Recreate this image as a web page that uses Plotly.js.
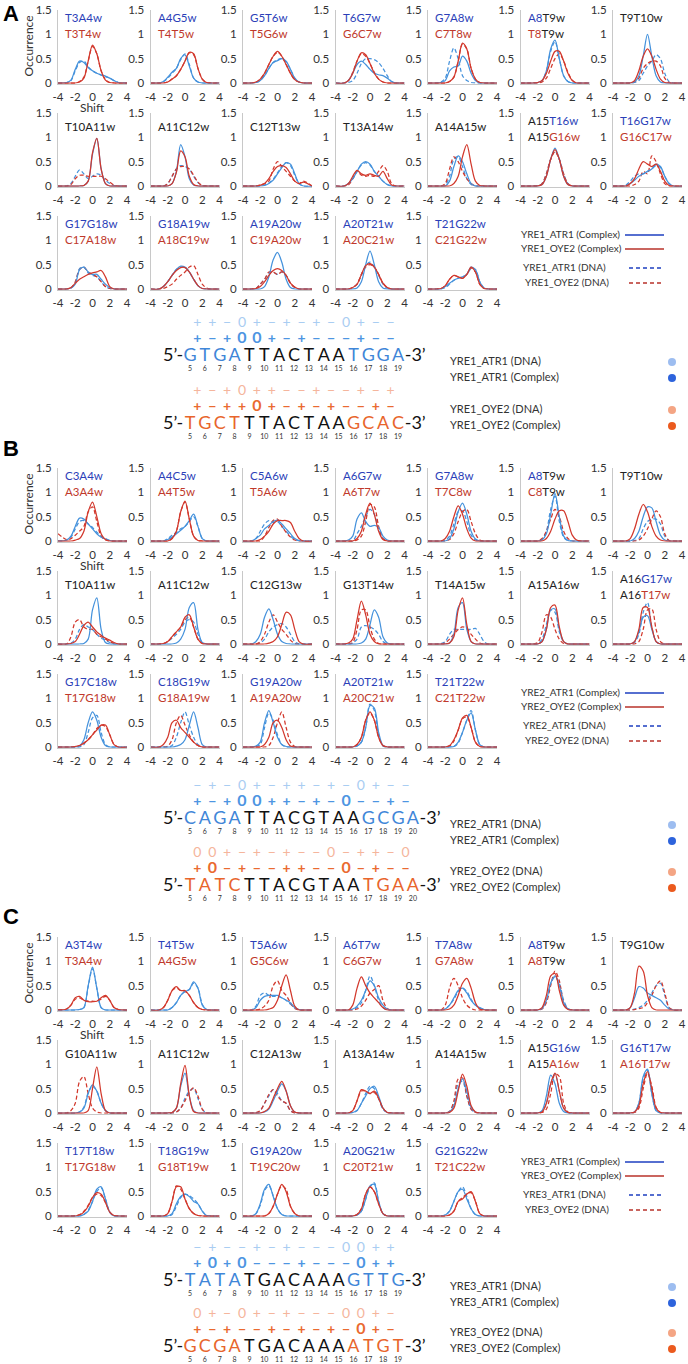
<!DOCTYPE html>
<html><head><meta charset="utf-8">
<script src="https://cdn.plot.ly/plotly-3.0.1.min.js"></script>
<style>body{margin:0;background:#fff}#chart{width:688px;height:1364px}</style>
</head><body><div id="chart"></div>
<script>
// ---------------- DATA ----------------
const X = [-4,-3,-2.5,-2,-1.5,-1,-0.5,0,0.5,1,1.5,2,2.5,3,4];
const X_TICKS = [-4,-2,0,2,4], X_TICK_TEXT = ['-4','-2','0','2','4'];
const Y_TICKS = [0,0.5,1,1.5], Y_TICK_TEXT = ['0','0.5','1','1.5'];

// label codes: b = blue, r = red, k = black ; segments split by |
const A_LABELS = [["b:T3A4w","r:T3T4w"],["b:A4G5w","r:T4T5w"],["b:G5T6w","r:T5G6w"],["b:T6G7w","r:G6C7w"],["b:G7A8w","r:C7T8w"],["b:A8|k:T9w","r:T8|k:T9w"],["k:T9T10w"],
["k:T10A11w"],["k:A11C12w"],["k:C12T13w"],["k:T13A14w"],["k:A14A15w"],["k:A15|b:T16w","k:A15|r:G16w"],["b:T16G17w","r:G16C17w"],
["b:G17G18w","r:C17A18w"],["b:G18A19w","r:A18C19w"],["b:A19A20w","r:C19A20w"],["b:A20T21w","r:A20C21w"],["b:T21G22w","r:C21G22w"]];
const B_LABELS = [["b:C3A4w","r:A3A4w"],["b:A4C5w","r:A4T5w"],["b:C5A6w","r:T5A6w"],["b:A6G7w","r:A6T7w"],["b:G7A8w","r:T7C8w"],["b:A8|k:T9w","r:C8|k:T9w"],["k:T9T10w"],
["k:T10A11w"],["k:A11C12w"],["k:C12G13w"],["k:G13T14w"],["k:T14A15w"],["k:A15A16w"],["k:A16|b:G17w","k:A16|r:T17w"],
["b:G17C18w","r:T17G18w"],["b:C18G19w","r:G18A19w"],["b:G19A20w","r:A19A20w"],["b:A20T21w","r:A20C21w"],["b:T21T22w","r:C21T22w"]];
const C_LABELS = [["b:A3T4w","r:T3A4w"],["b:T4T5w","r:A4G5w"],["b:T5A6w","r:G5C6w"],["b:A6T7w","r:C6G7w"],["b:T7A8w","r:G7A8w"],["b:A8|k:T9w","r:A8|k:T9w"],["k:T9G10w"],
["k:G10A11w"],["k:A11C12w"],["k:C12A13w"],["k:A13A14w"],["k:A14A15w"],["k:A15|b:G16w","k:A15|r:A16w"],["b:G16T17w","r:A16T17w"],
["b:T17T18w","r:T17G18w"],["b:T18G19w","r:G18T19w"],["b:G19A20w","r:T19C20w"],["b:A20G21w","r:C20T21w"],["b:G21G22w","r:T21C22w"]];

// Panel A curves
const A_CX_ATR1 = [
[0,0.01,0.06,0.28,0.45,0.42,0.32,0.25,0.2,0.17,0.14,0.1,0.05,0.01,0],
[0,0,0.03,0.12,0.22,0.3,0.5,0.58,0.35,0.1,0.02,0,0,0,0],
[0,0,0.01,0.05,0.15,0.3,0.42,0.46,0.5,0.45,0.28,0.1,0.02,0,0],
[0,0,0.05,0.2,0.38,0.45,0.38,0.28,0.2,0.17,0.15,0.1,0.03,0,0],
[0,0,0.01,0.05,0.25,0.33,0.35,0.55,0.45,0.2,0.05,0,0,0,0],
[0,0,0,0.01,0.05,0.25,0.7,0.88,0.5,0.15,0.03,0,0,0,0],
[0,0,0,0,0.02,0.15,0.55,1.0,0.55,0.15,0.02,0,0,0,0],
[0,0,0,0,0,0.01,0.1,0.65,0.98,0.35,0.05,0,0,0,0],
[0,0,0,0,0.05,0.3,0.85,0.6,0.15,0.02,0,0,0,0,0],
[0,0,0,0,0.01,0.05,0.12,0.25,0.38,0.48,0.45,0.25,0.05,0,0],
[0,0,0.05,0.15,0.3,0.45,0.5,0.45,0.3,0.2,0.1,0.03,0,0,0],
[0,0,0,0,0.1,0.4,0.62,0.5,0.25,0.05,0,0,0,0,0],
[0,0,0,0,0.03,0.2,0.55,0.78,0.55,0.2,0.03,0,0,0,0],
[0,0,0,0.05,0.12,0.2,0.25,0.3,0.35,0.45,0.4,0.2,0.05,0,0],
[0,0,0.02,0.1,0.4,0.45,0.35,0.3,0.3,0.2,0.1,0.03,0,0,0],
[0,0,0.05,0.15,0.28,0.4,0.47,0.45,0.35,0.2,0.07,0.01,0,0,0],
[0,0,0,0,0.05,0.25,0.6,0.75,0.55,0.2,0.03,0,0,0,0],
[0,0,0,0,0.02,0.15,0.5,0.78,0.5,0.15,0.02,0,0,0,0],
[0,0,0,0.05,0.12,0.18,0.22,0.25,0.3,0.45,0.4,0.15,0.02,0,0]];
const A_CX_OYE2 = [
[0,0,0,0,0.02,0.1,0.45,0.78,0.6,0.25,0.06,0.01,0,0,0],
[0,0,0,0.02,0.08,0.15,0.28,0.45,0.63,0.6,0.3,0.08,0.01,0,0],
[0,0,0.02,0.08,0.2,0.38,0.55,0.65,0.55,0.38,0.2,0.07,0.02,0,0],
[0,0,0.05,0.2,0.45,0.62,0.58,0.4,0.2,0.08,0.02,0,0,0,0],
[0,0,0,0,0.03,0.12,0.45,0.82,0.7,0.3,0.08,0.01,0,0,0],
[0,0,0,0.01,0.05,0.2,0.45,0.65,0.65,0.45,0.2,0.05,0,0,0],
[0,0,0,0,0.05,0.25,0.55,0.7,0.55,0.28,0.08,0.01,0,0,0],
[0,0,0,0,0,0.01,0.1,0.68,0.98,0.35,0.05,0,0,0,0],
[0,0,0,0,0.05,0.28,0.72,0.6,0.2,0.03,0,0,0,0,0],
[0,0,0,0.02,0.05,0.15,0.3,0.4,0.42,0.38,0.25,0.1,0.05,0.08,0],
[0,0,0.05,0.2,0.32,0.25,0.22,0.25,0.22,0.2,0.3,0.15,0.02,0,0],
[0,0,0,0,0,0.05,0.2,0.6,0.85,0.45,0.1,0.01,0,0,0],
[0,0,0,0,0.03,0.2,0.55,0.75,0.55,0.2,0.03,0,0,0,0],
[0,0,0,0.05,0.15,0.35,0.5,0.45,0.4,0.45,0.3,0.1,0.01,0,0],
[0,0,0.03,0.12,0.2,0.25,0.3,0.33,0.35,0.38,0.25,0.05,0,0,0],
[0,0,0.05,0.15,0.28,0.38,0.44,0.44,0.35,0.2,0.07,0.01,0,0,0],
[0,0,0.01,0.05,0.15,0.28,0.38,0.42,0.38,0.28,0.12,0.04,0,0,0],
[0,0,0,0.03,0.1,0.3,0.48,0.52,0.45,0.3,0.12,0.03,0,0,0],
[0,0,0.01,0.07,0.2,0.28,0.25,0.22,0.3,0.45,0.35,0.1,0.01,0,0]];
const A_DNA_ATR1 = [
[0,0.01,0.05,0.25,0.42,0.45,0.33,0.25,0.2,0.16,0.13,0.1,0.05,0.01,0],
[0,0,0.03,0.1,0.2,0.3,0.48,0.6,0.38,0.1,0.02,0,0,0,0],
[0,0,0.01,0.05,0.15,0.3,0.42,0.48,0.5,0.43,0.28,0.1,0.02,0,0],
[0,0,0.01,0.05,0.2,0.4,0.5,0.5,0.48,0.42,0.3,0.15,0.03,0,0],
[0,0,0.02,0.1,0.45,0.72,0.5,0.15,0.05,0.01,0,0,0,0,0],
[0,0,0,0.01,0.05,0.25,0.65,0.85,0.5,0.15,0.03,0,0,0,0],
[0,0,0,0,0.01,0.05,0.2,0.35,0.45,0.58,0.5,0.2,0.03,0,0],
[0,0,0.05,0.2,0.33,0.25,0.15,0.2,0.25,0.22,0.12,0.05,0.01,0,0],
[0,0,0,0.05,0.2,0.35,0.42,0.4,0.35,0.2,0.07,0.01,0,0,0],
[0,0,0,0,0.02,0.06,0.14,0.27,0.4,0.48,0.42,0.22,0.05,0,0],
[0,0,0.05,0.15,0.3,0.43,0.48,0.43,0.3,0.2,0.1,0.03,0,0,0],
[0,0,0,0.02,0.2,0.55,0.6,0.4,0.15,0.03,0,0,0,0,0],
[0,0,0,0.01,0.05,0.25,0.55,0.72,0.55,0.25,0.05,0,0,0,0],
[0,0,0.02,0.1,0.2,0.25,0.25,0.3,0.35,0.42,0.38,0.2,0.05,0,0],
[0,0,0.02,0.12,0.42,0.45,0.33,0.28,0.25,0.15,0.05,0.01,0,0,0],
[0,0,0.05,0.15,0.28,0.4,0.45,0.45,0.35,0.2,0.07,0.01,0,0,0],
[0,0,0.01,0.1,0.2,0.33,0.35,0.3,0.35,0.28,0.12,0.03,0,0,0],
[0,0,0,0.03,0.1,0.28,0.48,0.55,0.45,0.28,0.1,0.02,0,0,0],
[0,0,0,0.03,0.1,0.18,0.22,0.25,0.3,0.42,0.4,0.15,0.02,0,0]];
const A_DNA_OYE2 = [
[0,0,0,0,0.03,0.12,0.45,0.75,0.6,0.25,0.07,0.01,0,0,0],
[0,0,0,0.02,0.08,0.15,0.28,0.45,0.62,0.58,0.3,0.08,0.01,0,0],
[0,0,0.02,0.08,0.2,0.38,0.55,0.63,0.55,0.38,0.2,0.07,0.02,0,0],
[0,0,0.05,0.22,0.45,0.6,0.55,0.4,0.22,0.08,0.02,0,0,0,0],
[0,0,0,0,0.03,0.12,0.45,0.8,0.7,0.3,0.08,0.01,0,0,0],
[0,0,0,0,0.02,0.1,0.3,0.5,0.6,0.45,0.22,0.06,0,0,0],
[0,0,0,0,0.02,0.1,0.3,0.4,0.45,0.45,0.35,0.1,0.01,0,0],
[0,0,0.03,0.15,0.22,0.22,0.2,0.2,0.2,0.2,0.15,0.08,0.02,0,0],
[0,0,0,0.05,0.2,0.35,0.4,0.4,0.35,0.22,0.08,0.01,0,0,0],
[0,0,0,0.02,0.05,0.1,0.35,0.5,0.4,0.3,0.2,0.1,0.05,0.1,0],
[0,0,0.02,0.15,0.3,0.22,0.2,0.22,0.2,0.3,0.42,0.3,0.05,0,0],
[0,0,0,0.05,0.35,0.6,0.5,0.3,0.15,0.05,0,0,0,0,0],
[0,0,0,0.01,0.05,0.25,0.55,0.7,0.55,0.25,0.05,0,0,0,0],
[0,0,0,0,0.03,0.1,0.3,0.25,0.62,0.5,0.25,0.05,0,0,0],
[0,0,0.02,0.15,0.4,0.45,0.35,0.3,0.25,0.15,0.05,0.01,0,0,0],
[0,0,0.01,0.05,0.1,0.2,0.28,0.35,0.45,0.48,0.3,0.1,0.02,0,0],
[0,0,0.01,0.1,0.2,0.35,0.35,0.3,0.35,0.28,0.12,0.03,0,0,0],
[0,0,0,0.03,0.1,0.3,0.45,0.5,0.45,0.3,0.12,0.03,0,0,0],
[0,0,0.01,0.07,0.2,0.28,0.25,0.22,0.3,0.43,0.35,0.1,0.01,0,0]];

// Panel B curves
const B_CX_ATR1 = [
[0,0.02,0.1,0.3,0.47,0.45,0.35,0.25,0.15,0.08,0.04,0.01,0,0,0],
[0,0,0,0.03,0.08,0.15,0.22,0.3,0.42,0.55,0.3,0.05,0,0,0],
[0,0,0.05,0.12,0.25,0.32,0.4,0.43,0.35,0.25,0.15,0.05,0.01,0,0],
[0,0,0.02,0.1,0.45,0.58,0.4,0.3,0.32,0.28,0.1,0.02,0,0,0],
[0,0,0,0,0.05,0.25,0.6,0.78,0.55,0.2,0.04,0,0,0,0],
[0,0,0,0,0.02,0.15,0.55,0.98,0.5,0.1,0.01,0,0,0,0],
[0,0,0,0,0.05,0.2,0.5,0.7,0.68,0.4,0.12,0.02,0,0,0],
[0,0,0,0,0,0.01,0.1,0.7,0.95,0.3,0.03,0,0,0,0],
[0,0,0,0,0,0.02,0.1,0.3,0.75,0.85,0.3,0.03,0,0,0],
[0,0,0.05,0.2,0.55,0.72,0.5,0.2,0.05,0.01,0,0,0,0,0],
[0,0,0,0,0,0.02,0.1,0.4,0.7,0.55,0.15,0.02,0,0,0],
[0,0,0,0,0.02,0.2,0.75,0.85,0.3,0.05,0,0,0,0,0],
[0,0,0,0,0.05,0.3,0.7,0.72,0.3,0.05,0,0,0,0,0],
[0,0,0,0,0.05,0.25,0.55,0.58,0.3,0.05,0,0,0,0,0],
[0,0,0,0,0.02,0.15,0.5,0.72,0.55,0.2,0.03,0,0,0,0],
[0,0,0,0,0,0.02,0.05,0.15,0.45,0.72,0.4,0.05,0,0,0],
[0,0,0.02,0.1,0.5,0.75,0.5,0.2,0.05,0.01,0,0,0,0,0],
[0,0,0,0,0.02,0.1,0.4,0.85,0.8,0.3,0.03,0,0,0,0],
[0,0,0,0,0,0.01,0.1,0.3,0.55,0.7,0.35,0.05,0,0,0]];
const B_CX_OYE2 = [
[0,0,0,0.02,0.05,0.2,0.6,0.8,0.5,0.15,0.03,0,0,0,0],
[0,0,0,0,0.05,0.2,0.6,0.82,0.45,0.1,0.01,0,0,0,0],
[0,0,0,0.03,0.1,0.2,0.35,0.42,0.42,0.42,0.38,0.2,0.05,0,0],
[0,0,0,0,0.05,0.2,0.55,0.78,0.55,0.2,0.03,0,0,0,0],
[0,0,0,0.05,0.2,0.5,0.72,0.55,0.25,0.06,0,0,0,0,0],
[0,0,0,0,0,0.05,0.2,0.45,0.62,0.62,0.4,0.12,0.02,0,0],
[0,0,0,0.05,0.25,0.55,0.75,0.6,0.3,0.1,0.02,0,0,0,0],
[0,0,0.01,0.05,0.2,0.38,0.45,0.35,0.25,0.18,0.12,0.08,0.03,0,0],
[0,0,0.01,0.05,0.15,0.25,0.35,0.55,0.6,0.35,0.1,0.01,0,0,0],
[0,0,0,0,0,0.02,0.05,0.15,0.4,0.65,0.6,0.3,0.05,0,0],
[0,0,0.02,0.1,0.5,0.88,0.6,0.2,0.05,0,0,0,0,0,0],
[0,0,0,0,0.02,0.15,0.7,0.95,0.4,0.05,0,0,0,0,0],
[0,0,0,0,0.05,0.3,0.75,0.8,0.35,0.05,0,0,0,0,0],
[0,0,0,0,0.05,0.3,0.75,0.75,0.35,0.05,0,0,0,0,0],
[0,0,0,0.01,0.03,0.08,0.15,0.25,0.35,0.45,0.45,0.25,0.05,0,0],
[0,0,0.05,0.2,0.5,0.55,0.4,0.3,0.2,0.1,0.03,0,0,0,0],
[0,0,0,0,0.05,0.2,0.5,0.55,0.4,0.15,0.02,0,0,0,0],
[0,0,0,0,0.05,0.2,0.55,0.72,0.55,0.2,0.03,0,0,0,0],
[0,0,0,0,0.03,0.15,0.35,0.6,0.65,0.4,0.1,0.01,0,0,0]];
const B_DNA_ATR1 = [
[0,0.02,0.08,0.25,0.4,0.42,0.35,0.28,0.18,0.1,0.05,0.01,0,0,0],
[0,0,0,0.05,0.12,0.18,0.25,0.3,0.4,0.5,0.3,0.05,0,0,0],
[0,0,0.05,0.2,0.35,0.42,0.38,0.4,0.3,0.2,0.1,0.03,0,0,0],
[0,0,0,0,0.15,0.3,0.5,0.65,0.55,0.25,0.05,0,0,0,0],
[0,0,0,0.02,0.1,0.35,0.6,0.62,0.4,0.12,0.02,0,0,0,0],
[0,0,0,0,0.03,0.2,0.65,0.92,0.4,0.08,0.01,0,0,0,0],
[0,0,0,0,0.01,0.05,0.25,0.4,0.45,0.45,0.35,0.1,0.01,0,0],
[0,0,0.02,0.1,0.3,0.4,0.35,0.3,0.2,0.12,0.08,0.03,0,0,0],
[0,0,0,0.05,0.12,0.2,0.3,0.45,0.5,0.45,0.2,0.03,0,0,0],
[0,0,0,0.02,0.1,0.25,0.35,0.4,0.42,0.35,0.2,0.05,0,0,0],
[0,0,0,0.02,0.1,0.35,0.38,0.35,0.3,0.2,0.05,0,0,0,0],
[0,0,0.01,0.05,0.2,0.3,0.3,0.3,0.3,0.3,0.32,0.2,0.05,0,0],
[0,0,0,0,0.1,0.4,0.7,0.65,0.25,0.05,0,0,0,0,0],
[0,0,0,0,0.03,0.2,0.65,0.85,0.35,0.05,0,0,0,0,0],
[0,0,0,0,0,0.05,0.3,0.6,0.65,0.3,0.05,0,0,0,0],
[0,0,0,0,0.03,0.2,0.5,0.72,0.45,0.2,0.05,0,0,0,0],
[0,0,0.01,0.05,0.4,0.7,0.55,0.25,0.05,0,0,0,0,0,0],
[0,0,0,0,0.02,0.1,0.4,0.88,0.75,0.25,0.02,0,0,0,0],
[0,0,0,0,0,0.01,0.08,0.3,0.55,0.75,0.35,0.05,0,0,0]];
const B_DNA_OYE2 = [
[0.15,0.03,0.05,0.12,0.2,0.3,0.6,0.7,0.4,0.1,0.02,0,0,0,0],
[0,0,0,0,0.05,0.2,0.6,0.8,0.45,0.1,0.01,0,0,0,0],
[0,0,0,0,0.1,0.28,0.42,0.45,0.3,0.18,0.08,0.02,0,0,0],
[0,0,0,0,0.02,0.1,0.4,0.75,0.7,0.3,0.05,0,0,0,0],
[0,0,0,0,0.03,0.15,0.4,0.6,0.65,0.4,0.15,0.02,0,0,0],
[0,0,0,0,0.05,0.2,0.45,0.65,0.5,0.2,0.05,0,0,0,0],
[0,0,0,0,0,0.02,0.1,0.25,0.45,0.62,0.5,0.15,0.01,0,0],
[0,0,0.15,0.45,0.5,0.35,0.3,0.3,0.2,0.15,0.1,0.05,0.01,0,0],
[0,0,0.01,0.05,0.15,0.25,0.35,0.5,0.55,0.35,0.1,0.01,0,0,0],
[0,0,0,0.05,0.2,0.45,0.6,0.45,0.3,0.2,0.08,0.01,0,0,0],
[0,0,0,0.03,0.3,0.7,0.7,0.35,0.1,0.01,0,0,0,0,0],
[0,0,0,0.02,0.1,0.2,0.3,0.35,0.32,0.2,0.1,0.02,0,0,0],
[0,0,0,0.03,0.25,0.6,0.55,0.3,0.1,0.01,0,0,0,0,0],
[0,0,0,0,0,0.05,0.3,0.7,0.72,0.3,0.05,0,0,0,0],
[0,0,0,0.01,0.03,0.08,0.15,0.25,0.38,0.45,0.42,0.25,0.05,0,0],
[0,0,0,0.02,0.15,0.5,0.65,0.45,0.25,0.1,0.03,0,0,0,0],
[0,0,0,0,0,0.03,0.2,0.5,0.72,0.4,0.1,0.01,0,0,0],
[0,0,0,0,0.05,0.2,0.55,0.7,0.55,0.2,0.03,0,0,0,0],
[0,0,0,0,0.02,0.12,0.35,0.58,0.62,0.4,0.1,0.01,0,0,0]];

// Panel C curves
const C_CX_ATR1 = [
[0,0,0,0,0.01,0.05,0.5,0.88,0.45,0.05,0,0,0,0,0],
[0,0,0,0,0.05,0.15,0.3,0.38,0.42,0.58,0.45,0.1,0.01,0,0],
[0,0,0.05,0.2,0.28,0.3,0.3,0.3,0.25,0.2,0.15,0.05,0.01,0,0],
[0,0,0,0.02,0.08,0.2,0.4,0.6,0.5,0.25,0.1,0.02,0,0,0],
[0,0,0,0.02,0.1,0.25,0.4,0.45,0.35,0.2,0.1,0.05,0.01,0,0],
[0,0,0,0,0.03,0.2,0.55,0.7,0.5,0.15,0.02,0,0,0,0],
[0,0,0,0.05,0.25,0.48,0.45,0.35,0.3,0.25,0.2,0.1,0.02,0,0],
[0,0,0,0,0.02,0.1,0.4,0.58,0.45,0.2,0.05,0,0,0,0],
[0,0,0,0,0.01,0.1,0.55,0.82,0.35,0.05,0,0,0,0,0],
[0,0,0,0,0.02,0.08,0.25,0.45,0.6,0.45,0.15,0.02,0,0,0],
[0,0,0,0.01,0.05,0.2,0.35,0.5,0.55,0.35,0.1,0.01,0,0,0],
[0,0,0,0,0.02,0.15,0.5,0.7,0.45,0.12,0.02,0,0,0,0],
[0,0,0,0,0.05,0.35,0.78,0.6,0.2,0.03,0,0,0,0,0],
[0,0,0,0,0.02,0.2,0.75,0.9,0.4,0.05,0,0,0,0,0],
[0,0,0,0,0,0.03,0.1,0.3,0.55,0.6,0.35,0.08,0,0,0],
[0,0,0,0,0.05,0.25,0.4,0.45,0.4,0.3,0.25,0.1,0.01,0,0],
[0,0,0.05,0.25,0.55,0.65,0.4,0.15,0.03,0,0,0,0,0,0],
[0,0,0,0,0.02,0.1,0.35,0.62,0.65,0.3,0.05,0,0,0,0],
[0,0,0,0.02,0.1,0.3,0.5,0.55,0.35,0.15,0.03,0,0,0,0]];
const C_CX_OYE2 = [
[0,0.02,0.1,0.25,0.28,0.2,0.17,0.17,0.18,0.25,0.3,0.2,0.05,0.01,0],
[0,0,0.05,0.2,0.4,0.48,0.4,0.4,0.3,0.15,0.05,0.01,0,0,0],
[0,0,0,0,0,0.02,0.05,0.2,0.5,0.72,0.4,0.08,0,0,0],
[0,0,0,0.1,0.45,0.68,0.5,0.35,0.25,0.15,0.05,0,0,0,0],
[0,0,0,0,0.02,0.1,0.3,0.55,0.65,0.45,0.15,0.02,0,0,0],
[0,0,0,0,0.05,0.3,0.7,0.75,0.4,0.1,0.01,0,0,0,0],
[0,0,0,0.05,0.35,0.9,0.8,0.3,0.05,0,0,0,0,0,0],
[0,0,0,0,0,0,0.05,0.5,0.95,0.4,0.05,0,0,0,0],
[0,0,0,0,0.01,0.1,0.6,0.98,0.35,0.03,0,0,0,0,0],
[0,0,0,0,0.03,0.1,0.3,0.5,0.65,0.45,0.15,0.02,0,0,0],
[0,0,0,0.05,0.25,0.48,0.45,0.4,0.45,0.3,0.1,0.01,0,0,0],
[0,0,0,0,0.01,0.1,0.45,0.8,0.55,0.15,0.02,0,0,0,0],
[0,0,0,0,0.02,0.2,0.6,0.82,0.45,0.1,0.01,0,0,0,0],
[0,0,0,0,0.02,0.15,0.6,0.85,0.5,0.1,0.01,0,0,0,0],
[0,0,0,0,0.02,0.08,0.2,0.38,0.48,0.45,0.28,0.08,0.01,0,0],
[0,0,0,0.05,0.3,0.6,0.6,0.35,0.15,0.05,0.01,0,0,0,0],
[0,0,0,0,0,0.05,0.2,0.45,0.65,0.5,0.2,0.05,0,0,0],
[0,0,0,0,0.03,0.15,0.45,0.6,0.5,0.25,0.05,0,0,0,0],
[0,0,0,0,0.02,0.1,0.3,0.35,0.45,0.5,0.3,0.05,0,0,0]];
const C_DNA_ATR1 = [
[0,0,0,0,0.01,0.05,0.48,0.85,0.45,0.05,0,0,0,0,0],
[0,0,0,0,0.05,0.15,0.3,0.38,0.42,0.55,0.45,0.12,0.01,0,0],
[0,0,0.08,0.3,0.35,0.3,0.28,0.28,0.25,0.2,0.12,0.04,0,0,0],
[0,0,0,0.01,0.05,0.15,0.4,0.7,0.5,0.2,0.05,0,0,0,0],
[0,0,0,0.02,0.1,0.22,0.38,0.45,0.38,0.22,0.1,0.04,0.01,0,0],
[0,0,0,0,0.03,0.2,0.55,0.68,0.55,0.2,0.03,0,0,0,0],
[0,0,0,0,0.02,0.05,0.1,0.2,0.35,0.5,0.55,0.3,0.05,0,0],
[0,0,0,0,0.02,0.12,0.42,0.55,0.45,0.2,0.05,0,0,0,0],
[0,0,0,0,0,0.02,0.1,0.3,0.45,0.5,0.3,0.08,0,0,0],
[0,0,0,0.05,0.2,0.35,0.48,0.4,0.25,0.2,0.05,0,0,0,0],
[0,0,0,0.01,0.05,0.2,0.4,0.55,0.5,0.3,0.08,0.01,0,0,0],
[0,0,0,0,0.03,0.2,0.6,0.65,0.35,0.08,0.01,0,0,0,0],
[0,0,0,0,0.03,0.2,0.6,0.8,0.45,0.1,0.01,0,0,0,0],
[0,0,0,0,0.02,0.2,0.7,0.88,0.4,0.05,0,0,0,0,0],
[0,0,0,0,0,0.03,0.12,0.3,0.5,0.58,0.35,0.08,0,0,0],
[0,0,0,0,0.03,0.2,0.38,0.45,0.42,0.35,0.25,0.1,0.01,0,0],
[0,0,0.05,0.22,0.52,0.62,0.42,0.15,0.03,0,0,0,0,0,0],
[0,0,0,0,0.02,0.1,0.35,0.6,0.68,0.3,0.05,0,0,0,0],
[0,0,0,0.02,0.1,0.3,0.5,0.6,0.4,0.15,0.03,0,0,0,0]];
const C_DNA_OYE2 = [
[0,0.02,0.1,0.22,0.25,0.2,0.18,0.18,0.18,0.22,0.28,0.2,0.05,0.01,0],
[0,0,0.05,0.2,0.4,0.45,0.4,0.38,0.3,0.15,0.05,0.01,0,0,0],
[0,0,0,0.02,0.08,0.2,0.5,0.6,0.4,0.3,0.15,0.03,0,0,0],
[0,0,0,0,0.02,0.08,0.2,0.35,0.42,0.5,0.2,0.03,0,0,0],
[0,0,0,0.1,0.45,0.65,0.5,0.25,0.1,0.03,0,0,0,0,0],
[0,0,0,0,0.02,0.15,0.5,0.8,0.6,0.15,0.02,0,0,0,0],
[0,0,0,0,0.01,0.03,0.05,0.15,0.3,0.5,0.6,0.35,0.05,0,0],
[0,0,0.05,0.2,0.65,0.75,0.4,0.1,0.02,0,0,0,0,0,0],
[0,0,0,0,0,0.02,0.1,0.25,0.42,0.52,0.35,0.08,0,0,0],
[0,0,0.01,0.05,0.2,0.38,0.48,0.35,0.25,0.2,0.05,0,0,0,0],
[0,0,0,0.05,0.25,0.45,0.45,0.4,0.42,0.3,0.1,0.01,0,0,0],
[0,0,0,0,0.03,0.25,0.7,0.72,0.35,0.08,0.01,0,0,0,0],
[0,0,0,0,0.01,0.08,0.4,0.8,0.75,0.2,0.02,0,0,0,0],
[0,0,0,0,0.01,0.1,0.5,0.82,0.55,0.12,0.01,0,0,0,0],
[0,0,0,0.01,0.03,0.1,0.22,0.38,0.45,0.42,0.28,0.08,0.01,0,0],
[0,0,0,0.05,0.3,0.62,0.55,0.35,0.15,0.05,0.01,0,0,0,0],
[0,0,0,0,0,0.05,0.2,0.45,0.62,0.55,0.2,0.05,0,0,0],
[0,0,0,0,0.03,0.15,0.45,0.6,0.5,0.25,0.05,0,0,0,0],
[0,0,0,0,0.02,0.1,0.3,0.38,0.45,0.48,0.3,0.05,0,0,0]];

// Sequences (first index 5) and step signs (between bases)
const A_SEQ_ATR1 = "GTGATTACTAATGGA", A_SEQ_OYE2 = "TGCTTTACTAAGCAC";
const B_SEQ_ATR1 = "CAGATTACGTAAGCGA", B_SEQ_OYE2 = "TATCTTACGTAATGAA";
const C_SEQ_ATR1 = "TATATGACAAAGTTG", C_SEQ_OYE2 = "GCGATGACAAAATGT";
const A_SIGN_ATR1_DNA = "++-0+-+-+-0+--", A_SIGN_ATR1_CX = "+-+00+-+---+--";
const A_SIGN_OYE2_DNA = "+-+0++--+--+-+", A_SIGN_OYE2_CX = "+-++0+-+-+--+-";
const B_SIGN_ATR1_DNA = "-+-0+-++-+-0+--", B_SIGN_ATR1_CX = "+-+00++-+-0--+-";
const B_SIGN_OYE2_DNA = "00+-+-+--0-++-0", B_SIGN_OYE2_CX = "+0-+--++--0-+--";
const C_SIGN_ATR1_DNA = "-+--+-+---00++", C_SIGN_ATR1_CX = "+0+0---+---0++";
const C_SIGN_OYE2_DNA = "0+-0+-+---00+-", C_SIGN_OYE2_CX = "+-+--+-+-+-0+-";
const FIRST_INDEX = 5;
const YRE_NAMES = ["YRE1","YRE2","YRE3"];
const PANEL_LETTERS = ["A","B","C"];

// ---------------- LAYOUT CONSTANTS ----------------
const W = 688, H = 1364;
const PANEL_TOP = [10, 468, 937];
const COL_LEFT0 = 58, COL_STEP = 92.5, PW = 69, PH = 73, ROW_STEP = 103;
const YMIN = -0.015;
const SEQ_Y = [[355,423],[818,885],[1280,1346]];
const LETTER_Y = [13, 448, 916];
const SEQ_PX0 = 115.7, SEQ_STEP = 14.86;
const FONT = 'Lato, "Open Sans", sans-serif';
const C_ATR = '#4592dc', C_OYE = '#d2382c';
const LBL = {b:'#2b3fb8', r:'#c0392b', k:'#222'};
const LEG_ATR = '#1e3fc0', LEG_OYE = '#b8322a';
const SEQ_COL = {atr:'#3f86d8', oye:'#e8652c'};
const SIGN_COL = {atrDna:'#a9cdf2', atrCx:'#4d95e2', oyeDna:'#f5b59c', oyeCx:'#ea6a30'};
const DOT_COL = ['#9dbdf0','#2d63dc','#f4a584','#eb5a1e'];

const PANELS = [
 {labels:A_LABELS, cxA:A_CX_ATR1, cxO:A_CX_OYE2, dnA:A_DNA_ATR1, dnO:A_DNA_OYE2, seqA:A_SEQ_ATR1, seqO:A_SEQ_OYE2,
  sAd:A_SIGN_ATR1_DNA, sAc:A_SIGN_ATR1_CX, sOd:A_SIGN_OYE2_DNA, sOc:A_SIGN_OYE2_CX},
 {labels:B_LABELS, cxA:B_CX_ATR1, cxO:B_CX_OYE2, dnA:B_DNA_ATR1, dnO:B_DNA_OYE2, seqA:B_SEQ_ATR1, seqO:B_SEQ_OYE2,
  sAd:B_SIGN_ATR1_DNA, sAc:B_SIGN_ATR1_CX, sOd:B_SIGN_OYE2_DNA, sOc:B_SIGN_OYE2_CX},
 {labels:C_LABELS, cxA:C_CX_ATR1, cxO:C_CX_OYE2, dnA:C_DNA_ATR1, dnO:C_DNA_OYE2, seqA:C_SEQ_ATR1, seqO:C_SEQ_OYE2,
  sAd:C_SIGN_ATR1_DNA, sAc:C_SIGN_ATR1_CX, sOd:C_SIGN_OYE2_DNA, sOc:C_SIGN_OYE2_CX}
];

// ---------------- BUILD ----------------
const traces = [], annotations = [], shapes = [];
const layout = {width:W, height:H, margin:{l:0,r:0,t:0,b:0}, showlegend:false, hovermode:false,
  paper_bgcolor:'#fff', plot_bgcolor:'rgba(0,0,0,0)', font:{family:FONT, size:11, color:'#333'}};

function fmtLine(line){
  return line.split('|').map(s=>{const i=s.indexOf(':'); return '<span style="color:'+LBL[s.slice(0,i)]+'">'+s.slice(i+1)+'</span>';}).join('');
}
const pxPerUnit = PH/1.5;
let n = 0;
PANELS.forEach((P, p) => {
  for (let k = 0; k < 19; k++) {
    n++;
    const r = Math.floor(k/7), c = k % 7;
    const left = COL_LEFT0 + c*COL_STEP;
    const top = PANEL_TOP[p] + r*ROW_STEP;
    const bottom = top + PH - YMIN*pxPerUnit;
    const sx = n===1 ? '' : String(n);
    layout['xaxis'+sx] = {domain:[left/W, (left+PW)/W], range:[-4,4], tickvals:X_TICKS, ticktext:X_TICK_TEXT,
      showline:true, linecolor:'#c8c8c8', linewidth:1, showgrid:false, zeroline:false, ticks:'', fixedrange:true,
      tickfont:{size:11.5, color:'#333', family:FONT}, anchor:'y'+sx, ticklabelstandoff:2};
    layout['yaxis'+sx] = {domain:[1-bottom/H, 1-top/H], range:[YMIN,1.5], tickvals:Y_TICKS, ticktext:Y_TICK_TEXT,
      showline:true, linecolor:'#c8c8c8', linewidth:1, showgrid:false, zeroline:false, ticks:'', fixedrange:true,
      tickfont:{size:11.5, color:'#333', family:FONT}, anchor:'x'+sx, ticklabelstandoff:3};
    const ax = {xaxis:'x'+sx, yaxis:'y'+sx};
    const base = {type:'scatter', mode:'lines', x:X, hoverinfo:'skip', ...ax};
    traces.push({...base, y:P.dnA[k], line:{color:C_ATR, width:1.25, dash:'4px,2.5px', shape:'spline', smoothing:0.9}});
    traces.push({...base, y:P.dnO[k], line:{color:C_OYE, width:1.25, dash:'4px,2.5px', shape:'spline', smoothing:0.9}});
    traces.push({...base, y:P.cxA[k], line:{color:C_ATR, width:1.25, shape:'spline', smoothing:0.9}});
    traces.push({...base, y:P.cxO[k], line:{color:C_OYE, width:1.25, shape:'spline', smoothing:0.9}});
    const lab = P.labels[k];
    if (lab.length === 2) {
      annotations.push({xref:'x'+sx, yref:'y'+sx, x:-3.4, y:1.356, xanchor:'left', yanchor:'middle', showarrow:false, text:fmtLine(lab[0]), font:{size:11.5, family:FONT}});
      annotations.push({xref:'x'+sx, yref:'y'+sx, x:-3.4, y:1.027, xanchor:'left', yanchor:'middle', showarrow:false, text:fmtLine(lab[1]), font:{size:11.5, family:FONT}});
    } else {
      annotations.push({xref:'x'+sx, yref:'y'+sx, x:-3.4, y:(r===0?1.356:1.23), xanchor:'left', yanchor:'middle', showarrow:false, text:fmtLine(lab[0]), font:{size:11.5, family:FONT}});
    }
  }
});

// page axes (pixel coordinates) and sequence-index axis
const PG = 58;
layout['xaxis'+PG] = {domain:[0,1], range:[0,W], visible:false, fixedrange:true, anchor:'y'+PG};
layout['yaxis'+PG] = {domain:[0,1], range:[H,0], visible:false, fixedrange:true, anchor:'x'+PG};
layout['xaxis'+(PG+1)] = {domain:[0,1], range:[-SEQ_PX0/SEQ_STEP, (W-SEQ_PX0)/SEQ_STEP], visible:false, fixedrange:true, anchor:'y'+PG};
const pg = {xaxis:'x'+PG, yaxis:'y'+PG, hoverinfo:'skip', cliponaxis:false};
const sq = {xaxis:'x'+(PG+1), yaxis:'y'+PG, hoverinfo:'skip', cliponaxis:false};

PANELS.forEach((P, p) => {
  const top0 = PANEL_TOP[p];
  annotations.push({xref:'x'+PG, yref:'y'+PG, x:11, y:LETTER_Y[p], text:'<b>'+PANEL_LETTERS[p]+'</b>', showarrow:false,
    font:{size:22, family:'"Liberation Sans", Arial, sans-serif', color:'#000'}});
  annotations.push({xref:'x'+PG, yref:'y'+PG, x:28, y:top0+PH/2, text:'Occurrence', textangle:-90, showarrow:false, font:{size:12, family:FONT, color:'#333'}});
  annotations.push({xref:'x'+PG, yref:'y'+PG, x:COL_LEFT0+PW/2, y:top0+PH+24, text:'Shift', showarrow:false, font:{size:12, family:FONT, color:'#333'}});
  // line legend
  const rt = top0 + 2*ROW_STEP;
  const legTxt = [YRE_NAMES[p]+'_ATR1 (Complex)', YRE_NAMES[p]+'_OYE2 (Complex)', YRE_NAMES[p]+'_ATR1 (DNA)', YRE_NAMES[p]+'_OYE2 (DNA)'];
  const legY = [rt+19, rt+33, rt+52, rt+67];
  traces.push({type:'scatter', mode:'text', x:[521,521,523,525], y:legY, text:legTxt, textposition:'middle right',
    textfont:{size:10, family:FONT, color:'#333'}, ...pg});
  [[LEG_ATR,'solid',625],[LEG_OYE,'solid',625],[LEG_ATR,'4px,3px',629],[LEG_OYE,'4px,3px',629]].forEach((d,i)=>{
    shapes.push({type:'line', xref:'x'+PG, yref:'y'+PG, x0:d[2], x1:664, y0:legY[i], y1:legY[i], line:{color:d[0], width:1.5, dash:d[1]}});
  });
  // sequences
  [[P.seqA, SEQ_COL.atr, P.sAd, P.sAc, SIGN_COL.atrDna, SIGN_COL.atrCx, SEQ_Y[p][0]],
   [P.seqO, SEQ_COL.oye, P.sOd, P.sOc, SIGN_COL.oyeDna, SIGN_COL.oyeCx, SEQ_Y[p][1]]].forEach(([seq, col, sd, sc, cd, cc, y]) => {
    const L = seq.length;
    const idx = Array.from({length:L}, (_,i)=>FIRST_INDEX+i);
    const cols = idx.map((_,i)=> (i<4 || i>=L-4) ? col : '#111');
    traces.push({type:'scatter', mode:'text', x:idx, y:idx.map(()=>y+1), text:seq.split(''), textposition:'middle center',
      textfont:{size:18, family:FONT, color:cols}, ...sq});
    traces.push({type:'scatter', mode:'text', x:[FIRST_INDEX-0.45, FIRST_INDEX+L-1+0.45], y:[y+1,y+1], text:['5’-','-3’'],
      textposition:['middle left','middle right'], textfont:{size:18, family:FONT, color:'#111'}, ...sq});
    traces.push({type:'scatter', mode:'text', x:idx, y:idx.map(()=>y+14), text:idx.map(String), textposition:'middle center',
      textfont:{size:7, family:FONT, color:'#333'}, ...sq});
    const mid = Array.from({length:L-1}, (_,i)=>FIRST_INDEX+i+0.5);
    const g = ch => ch==='-' ? '−' : ch;
    traces.push({type:'scatter', mode:'text', x:mid, y:mid.map(()=>y-32), text:sd.split('').map(g), textposition:'middle center',
      textfont:{size:sd.split('').map(ch=>ch==='0'?14:14), family:FONT, color:cd}, ...sq});
    traces.push({type:'scatter', mode:'text', x:mid, y:mid.map(()=>y-16), text:sc.split('').map(g), textposition:'middle center',
      textfont:{size:sc.split('').map(ch=>ch==='0'?16:14), family:FONT, color:cc, weight:'bold'}, ...sq});
  });
  // dot legend
  const dy = [SEQ_Y[p][0]+7, SEQ_Y[p][0]+23, SEQ_Y[p][1]-13, SEQ_Y[p][1]+3];
  const dt = [YRE_NAMES[p]+'_ATR1 (DNA)', YRE_NAMES[p]+'_ATR1 (Complex)', YRE_NAMES[p]+'_OYE2 (DNA)', YRE_NAMES[p]+'_OYE2 (Complex)'];
  traces.push({type:'scatter', mode:'text', x:dy.map(()=>450), y:dy, text:dt, textposition:'middle right',
    textfont:{size:11, family:FONT, color:'#333'}, ...pg});
  traces.push({type:'scatter', mode:'markers', x:dy.map(()=>672), y:dy, marker:{size:8, color:DOT_COL}, ...pg});
});

layout.annotations = annotations;
layout.shapes = shapes;
Plotly.newPlot('chart', traces, layout, {staticPlot:true, displayModeBar:false});
</script>
</body></html>
